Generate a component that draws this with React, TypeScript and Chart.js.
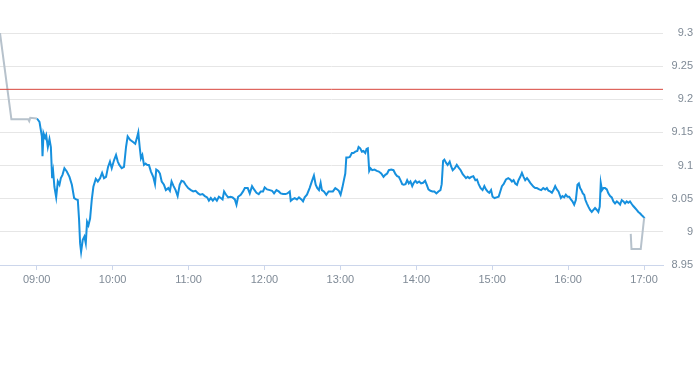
import { useEffect, useRef } from 'react';
import { Chart, registerables } from 'chart.js';

Chart.register(...registerables);

// Time axis in minutes since midnight
const hourTicks = [540, 600, 660, 720, 780, 840, 900, 960, 1020];
const yTicks = [8.95, 9, 9.05, 9.1, 9.15, 9.2, 9.25, 9.3];
const prevClose = 9.215;

// Pre-market (grey)
const preTimes = [511, 520, 533.3, 534.1, 534.9, 540.2];
const prePrices = [9.3, 9.17, 9.17, 9.167, 9.172, 9.171];

// Post-market (grey)
const postTimes = [1009.5, 1010.1, 1017.4, 1020.1];
const postPrices = [8.997, 8.974, 8.974, 9.021];

// Regular session (blue)
const blueTimes = [
  540.2, 542.2, 544.1, 544.6, 545.4, 546.7, 547.5, 548.8, 550.1, 551.2,
  552.2, 553.0, 554.0, 555.4, 556.7, 558.0, 559.1, 560.4, 561.9, 563.8,
  565.9, 567.8, 569.6, 571.2, 572.5, 573.5, 574.3, 575.1, 576.4, 577.7,
  578.8, 579.8, 580.9, 582.2, 583.5, 584.8, 586.7, 588.3, 590.1, 591.7,
  593.2, 594.8, 596.4, 597.9, 599.3, 601.1, 602.7, 604.1, 605.3, 607.2,
  609.0, 610.6, 611.9, 613.8, 615.9, 617.9, 619.5, 620.3, 621.4, 622.4,
  623.5, 624.8, 626.1, 627.4, 628.7, 630.3, 632.1, 633.5, 634.5, 636.1,
  637.4, 638.8, 640.6, 642.1, 644.0, 645.3, 646.6, 648.2, 649.8, 651.4,
  653.0, 654.5, 656.1, 657.7, 659.7, 661.9, 663.7, 665.6, 667.6, 669.2,
  671.1, 672.9, 674.7, 676.1, 677.6, 679.2, 680.8, 682.4, 684.0, 685.5,
  686.9, 688.1, 689.7, 691.3, 693.2, 694.8, 696.6, 697.9, 699.2, 701.3,
  703.1, 704.5, 706.8, 708.4, 710.2, 711.8, 713.7, 715.5, 717.1, 718.9,
  720.2, 722.1, 724.2, 726.0, 727.6, 729.5, 731.3, 732.9, 734.7, 736.6,
  738.1, 740.0, 740.8, 742.1, 743.9, 745.7, 747.3, 749.2, 750.5, 751.8,
  753.6, 755.7, 757.6, 759.1, 760.5, 761.8, 763.1, 764.4, 765.4, 767.0,
  768.9, 770.7, 772.3, 774.1, 776.0, 777.6, 778.8, 780.2, 781.5, 782.8,
  783.9, 784.7, 786.0, 787.5, 789.1, 790.4, 791.8, 793.4, 794.4, 795.7,
  797.0, 798.3, 799.7, 800.7, 801.7, 802.8, 803.8, 805.2, 807.0, 808.8,
  810.4, 812.3, 814.1, 815.5, 817.0, 818.3, 820.2, 822.0, 823.6, 824.9,
  826.2, 827.5, 828.9, 830.1, 831.5, 832.8, 834.1, 835.4, 836.8, 838.0,
  839.4, 840.7, 842.3, 843.8, 845.4, 847.0, 848.3, 849.6, 851.2, 852.8,
  854.3, 855.9, 857.5, 859.1, 860.1, 861.2, 862.2, 863.6, 864.8, 866.4,
  867.5, 868.8, 870.4, 872.0, 873.5, 875.1, 876.7, 878.0, 879.3, 880.6,
  882.0, 883.5, 885.1, 886.7, 888.0, 889.3, 890.9, 892.4, 893.8, 895.1,
  896.4, 897.7, 899.1, 900.3, 901.9, 903.5, 905.1, 906.4, 907.7, 909.0,
  910.9, 912.7, 914.3, 915.6, 916.9, 918.2, 919.6, 920.8, 922.2, 923.5,
  924.8, 926.1, 927.5, 928.7, 930.1, 931.4, 932.7, 934.0, 935.3, 937.2,
  938.7, 940.3, 941.9, 943.2, 944.5, 945.8, 947.2, 948.4, 949.8, 951.1,
  952.4, 954.3, 955.5, 956.9, 958.2, 959.5, 960.8, 962.2, 963.4, 964.8,
  966.1, 967.4, 968.5, 969.5, 970.5, 971.6, 972.7, 973.7, 974.8, 976.0,
  977.4, 978.7, 980.0, 981.3, 982.7, 983.9, 985.0, 985.8, 986.8, 987.9,
  989.2, 990.6, 991.8, 993.2, 994.5, 995.8, 997.1, 998.5, 999.7, 1001.1,
  1002.4, 1003.7, 1005.0, 1006.3, 1007.6, 1008.9, 1010.3, 1011.5, 1012.9, 1014.2,
  1015.5, 1016.8, 1018.2, 1019.4, 1020.5,
];

const bluePrices = [
  9.171, 9.166, 9.144, 9.114, 9.149, 9.142, 9.146, 9.128, 9.14, 9.128,
  9.081, 9.091, 9.068, 9.052, 9.076, 9.071, 9.081, 9.086, 9.096, 9.091,
  9.083, 9.071, 9.051, 9.049, 9.048, 9.018, 8.983, 8.97, 8.988, 8.993,
  8.983, 9.015, 9.01, 9.02, 9.048, 9.068, 9.08, 9.076, 9.081, 9.089,
  9.081, 9.083, 9.098, 9.106, 9.096, 9.108, 9.116, 9.106, 9.101, 9.096,
  9.098, 9.128, 9.144, 9.139, 9.136, 9.133, 9.144, 9.15, 9.128, 9.111,
  9.116, 9.101, 9.103, 9.101, 9.101, 9.091, 9.083, 9.072, 9.094, 9.092,
  9.088, 9.076, 9.071, 9.063, 9.066, 9.062, 9.076, 9.069, 9.063, 9.054,
  9.071, 9.077, 9.076, 9.071, 9.066, 9.063, 9.061, 9.062, 9.058, 9.056,
  9.057, 9.054, 9.052, 9.047, 9.051, 9.047, 9.051, 9.047, 9.053, 9.051,
  9.049, 9.061, 9.056, 9.052, 9.053, 9.052, 9.049, 9.041, 9.053, 9.056,
  9.061, 9.066, 9.066, 9.058, 9.069, 9.064, 9.059, 9.057, 9.061, 9.061,
  9.067, 9.064, 9.063, 9.062, 9.058, 9.063, 9.061, 9.058, 9.057, 9.057,
  9.058, 9.061, 9.047, 9.049, 9.051, 9.049, 9.052, 9.049, 9.046, 9.052,
  9.056, 9.066, 9.077, 9.085, 9.071, 9.066, 9.063, 9.074, 9.063, 9.061,
  9.056, 9.061, 9.061, 9.061, 9.066, 9.064, 9.062, 9.056, 9.066, 9.078,
  9.088, 9.112, 9.112, 9.113, 9.119, 9.119, 9.121, 9.122, 9.128, 9.126,
  9.121, 9.122, 9.119, 9.125, 9.126, 9.092, 9.096, 9.093, 9.094, 9.092,
  9.091, 9.088, 9.083, 9.086, 9.088, 9.093, 9.094, 9.093, 9.087, 9.084,
  9.083, 9.078, 9.072, 9.071, 9.072, 9.078, 9.073, 9.076, 9.069, 9.074,
  9.077, 9.074, 9.076, 9.073, 9.074, 9.077, 9.071, 9.064, 9.062, 9.061,
  9.061, 9.058, 9.061, 9.063, 9.072, 9.107, 9.109, 9.104, 9.101, 9.106,
  9.099, 9.093, 9.096, 9.101, 9.097, 9.093, 9.087, 9.084, 9.081, 9.083,
  9.081, 9.083, 9.084, 9.078, 9.079, 9.072, 9.066, 9.063, 9.069, 9.064,
  9.061, 9.059, 9.063, 9.053, 9.051, 9.052, 9.053, 9.061, 9.069, 9.072,
  9.079, 9.081, 9.079, 9.076, 9.078, 9.073, 9.071, 9.078, 9.083, 9.089,
  9.083, 9.078, 9.081, 9.078, 9.074, 9.071, 9.068, 9.066, 9.066, 9.064,
  9.063, 9.066, 9.064, 9.066, 9.062, 9.061, 9.059, 9.063, 9.069, 9.064,
  9.061, 9.051, 9.054, 9.052, 9.056, 9.053, 9.053, 9.049, 9.046, 9.041,
  9.048, 9.071, 9.073, 9.066, 9.063, 9.058, 9.056, 9.048, 9.043, 9.038,
  9.033, 9.03, 9.033, 9.036, 9.033, 9.03, 9.038, 9.074, 9.063, 9.066,
  9.066, 9.064, 9.058, 9.054, 9.052, 9.046, 9.043, 9.046, 9.044, 9.041,
  9.048, 9.046, 9.043, 9.046, 9.044, 9.046, 9.042, 9.039, 9.036, 9.033,
  9.03, 9.028, 9.025, 9.023, 9.02,
];

const X_MIN = 511;
const X_MAX = 1035;

const pair = (xs: number[], ys: number[]) => xs.map((x, i) => ({ x, y: ys[i] }));
const fmtTime = (v: number) => {
  const h = Math.floor(v / 60);
  const m = Math.round(v % 60);
  return String(h).padStart(2, '0') + ':' + String(m).padStart(2, '0');
};

const LABEL_COLOR = '#7f8a96';
const FONT = { family: '"Liberation Sans", Arial, sans-serif', size: 11 };

export default function App() {
  const ref = useRef<HTMLCanvasElement>(null);

  useEffect(() => {
    const chart = new Chart(ref.current!, {
      type: 'line',
      data: {
        datasets: [
          {
            data: [{ x: X_MIN, y: prevClose }, { x: X_MAX, y: prevClose }],
            borderColor: '#d8453c',
            borderWidth: 1,
          },
          {
            data: pair(preTimes, prePrices),
            borderColor: '#b7c2cc',
            borderWidth: 2,
          },
          {
            data: pair(postTimes, postPrices),
            borderColor: '#b7c2cc',
            borderWidth: 2,
          },
          {
            data: pair(blueTimes, bluePrices),
            borderColor: '#1690de',
            borderWidth: 2,
          },
        ],
      },
      options: {
        animation: false,
        responsive: false,
        maintainAspectRatio: false,
        layout: { padding: { top: 33, bottom: 78, left: 0, right: 0 } },
        plugins: { legend: { display: false }, tooltip: { enabled: false } },
        elements: { point: { radius: 0 }, line: { tension: 0 } },
        scales: {
          x: {
            type: 'linear',
            min: X_MIN,
            max: X_MAX,
            afterBuildTicks: (s: any) => {
              s.ticks = hourTicks.map((v) => ({ value: v }));
            },
            afterFit: (s: any) => {
              s.height = 22;
            },
            ticks: {
              callback: (v: any) => fmtTime(Number(v)),
              color: LABEL_COLOR,
              font: FONT,
              padding: 3,
              maxRotation: 0,
              autoSkip: false,
            },
            grid: {
              drawOnChartArea: false,
              drawTicks: true,
              tickLength: 5,
              color: '#ccd6eb',
            },
            border: { display: true, color: '#ccd6eb' },
          },
          y: {
            position: 'right',
            min: 8.95,
            max: 9.3,
            afterBuildTicks: (s: any) => {
              s.ticks = yTicks.map((v) => ({ value: v }));
            },
            afterFit: (s: any) => {
              s.width = 30;
            },
            ticks: {
              callback: (v: any) => String(Number(Number(v).toFixed(2))),
              color: LABEL_COLOR,
              font: FONT,
              padding: 10,
              crossAlign: 'far',
            },
            grid: { color: '#e6e6e6', drawTicks: false },
            border: { display: false },
          },
        },
      },
    } as any);
    return () => chart.destroy();
  }, []);

  return (
    <div style={{ position: 'absolute', left: 0, top: 0, width: 693, height: 365 }}>
      <canvas ref={ref} width={693} height={365} style={{ display: 'block' }} />
    </div>
  );
}
